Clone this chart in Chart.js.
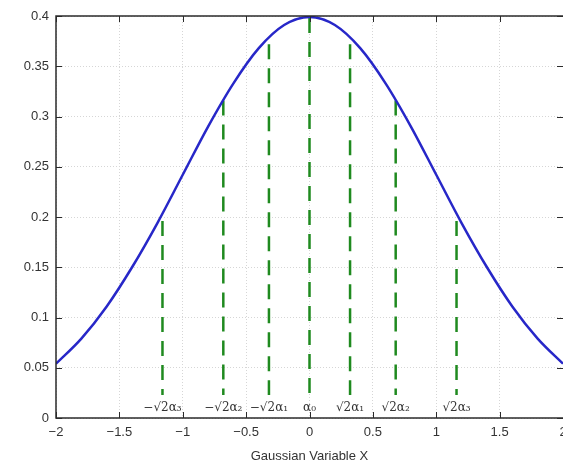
<!DOCTYPE html>
<html>
<head>
<meta charset="utf-8">
<script src="https://cdn.jsdelivr.net/npm/chart.js@4/dist/chart.umd.min.js"></script>
<style>
  html, body { margin: 0; padding: 0; background: #fff; }
  #wrap { width: 563px; height: 469px; position: relative; }
</style>
</head>
<body>
<div id="wrap"><canvas id="gauss"></canvas></div>
<script>
// curve
var curveX = [-2, -1.8, -1.6, -1.4, -1.2, -1, -0.8, -0.6, -0.4, -0.2, 0, 0.2, 0.4, 0.6, 0.8, 1, 1.2, 1.4, 1.6, 1.8, 2];
var curveY = [0.054, 0.079, 0.111, 0.150, 0.194, 0.242, 0.290, 0.333, 0.368, 0.391, 0.399, 0.391, 0.368, 0.333, 0.290, 0.242, 0.194, 0.150, 0.111, 0.079, 0.054];

// quadrature nodes (green dashed stems)
var nodeX = [-1.16, -0.68, -0.32, 0, 0.32, 0.68, 1.16];
var nodeTop = [0.196, 0.316, 0.372, 0.398, 0.372, 0.316, 0.196];
var nodeBottom = 0.023;
var nodeLabels = ["\u2212\u221A2\u03B1\u2083", "\u2212\u221A2\u03B1\u2082", "\u2212\u221A2\u03B1\u2081", "\u03B1\u2080", "\u221A2\u03B1\u2081", "\u221A2\u03B1\u2082", "\u221A2\u03B1\u2083"];

var xTicks = [-2, -1.5, -1, -0.5, 0, 0.5, 1, 1.5, 2];
var yTicks = [0, 0.05, 0.1, 0.15, 0.2, 0.25, 0.3, 0.35, 0.4];

var curvePts = curveX.map(function (x, i) { return { x: x, y: curveY[i] }; });

var stemPts = [];
nodeX.forEach(function (x, i) {
  stemPts.push({ x: x, y: nodeTop[i] });
  stemPts.push({ x: x, y: nodeBottom });
  stemPts.push({ x: x, y: null });
});

var fontMain = { family: "'Liberation Sans', Arial, sans-serif", size: 13 };

var boxAndTicks = {
  id: 'boxAndTicks',
  afterDatasetsDraw: function (chart) {
    var ctx = chart.ctx, a = chart.chartArea;
    var xs = chart.scales.x, ys = chart.scales.y;
    ctx.save();
    ctx.strokeStyle = '#2b2b2b';
    ctx.lineWidth = 1;
    ctx.beginPath();
    xTicks.forEach(function (t) {
      var px = Math.round(xs.getPixelForValue(t)) + 0.5;
      ctx.moveTo(px, a.bottom); ctx.lineTo(px, a.bottom - 6);
      ctx.moveTo(px, a.top); ctx.lineTo(px, a.top + 6);
    });
    yTicks.forEach(function (t) {
      var py = Math.round(ys.getPixelForValue(t)) + 0.5;
      ctx.moveTo(a.left, py); ctx.lineTo(a.left + 6, py);
      ctx.moveTo(a.right, py); ctx.lineTo(a.right - 6, py);
    });
    ctx.stroke();
    ctx.lineWidth = 1.5;
    ctx.strokeRect(a.left, a.top, a.right - a.left + 2, a.bottom - a.top);

    ctx.fillStyle = '#333';
    ctx.font = "12px 'DejaVu Serif', serif";
    ctx.textAlign = 'center';
    ctx.textBaseline = 'middle';
    nodeX.forEach(function (x, i) {
      ctx.fillText(nodeLabels[i], xs.getPixelForValue(x), 408);
    });
    ctx.restore();
  }
};

new Chart(document.getElementById('gauss'), {
  type: 'line',
  data: {
    datasets: [{
      label: 'pdf',
      data: curvePts,
      borderColor: '#2727c8',
      borderWidth: 2.5,
      pointRadius: 0,
      cubicInterpolationMode: 'monotone',
      fill: false
    }, {
      label: 'nodes',
      data: stemPts,
      borderColor: '#1f8a1f',
      borderWidth: 2.5,
      borderDash: [15, 9],
      pointRadius: 0,
      spanGaps: false,
      fill: false
    }]
  },
  options: {
    responsive: true,
    maintainAspectRatio: false,
    animation: false,
    layout: { padding: { left: 0, right: 0, top: 16, bottom: 0 } },
    plugins: {
      legend: { display: false },
      tooltip: { enabled: false }
    },
    scales: {
      x: {
        type: 'linear',
        min: -2,
        max: 2,
        afterBuildTicks: function (s) { s.ticks = xTicks.map(function (v) { return { value: v }; }); },
        afterFit: function (s) { s.height = 51; s.paddingLeft = 0; s.paddingRight = 0; },
        grid: { color: '#d6d6d6', drawTicks: false, tickLength: 0 },
        border: { display: false, dash: [1, 2] },
        ticks: {
          color: '#333',
          font: fontMain,
          padding: 7,
          maxRotation: 0,
          callback: function (v) { return String(v).replace('-', '\u2212'); }
        },
        title: {
          display: true,
          text: 'Gaussian Variable X',
          color: '#333',
          font: fontMain,
          padding: { top: 0, bottom: 5 }
        }
      },
      y: {
        min: 0,
        max: 0.4,
        afterBuildTicks: function (s) { s.ticks = yTicks.map(function (v) { return { value: v }; }); },
        afterFit: function (s) { s.width = 56; },
        grid: { color: '#d6d6d6', drawTicks: false, tickLength: 0 },
        border: { display: false, dash: [1, 2] },
        ticks: {
          color: '#333',
          font: fontMain,
          padding: 7,
          callback: function (v) { return String(v); }
        }
      }
    }
  },
  plugins: [boxAndTicks]
});
</script>
</body>
</html>
